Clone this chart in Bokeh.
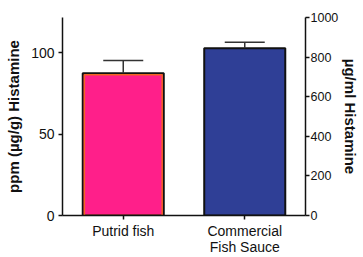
from bokeh.plotting import figure
from bokeh.models import Range1d, LinearAxis, FactorRange, ColumnDataSource, Whisker, TeeHead, FixedTicker
from bokeh.embed import file_html
from bokeh.resources import INLINE

# ---- data ----
categories = ["Putrid fish", "Commercial\nFish Sauce"]
putrid_ppm = [87.3]          # ppm (µg/g) Histamine, left axis
putrid_err = [7.8]
commercial_ugml = [845.0]    # µg/ml Histamine, right axis
commercial_err = [30.0]
left_ticks = [0, 50, 100]
right_ticks = [0, 200, 400, 600, 800, 1000]

FONT = "Liberation Sans"

p = figure(width=363, height=257, output_backend="svg", toolbar_location=None,
           x_range=FactorRange(factors=categories, range_padding=0),
           y_range=Range1d(0, 121.5),
           min_border_left=62, min_border_right=58, min_border_top=17, min_border_bottom=38)
p.extra_y_ranges = {"ugml": Range1d(0, 1000)}
p.outline_line_color = None
p.grid.visible = False
p.background_fill_color = "white"
p.border_fill_color = "white"

src_a = ColumnDataSource(dict(x=[categories[0]], top=putrid_ppm,
                              up=[v + e for v, e in zip(putrid_ppm, putrid_err)]))
src_b = ColumnDataSource(dict(x=[categories[1]], top=commercial_ugml,
                              up=[v + e for v, e in zip(commercial_ugml, commercial_err)]))

# bars
p.vbar(x="x", top="top", bottom=0, width=0.667, source=src_a,
       fill_color="#FF1F8A", line_color="#111111", line_width=2)
src_a_inner = ColumnDataSource(dict(x=[categories[0]], top=[v - 1.0 for v in putrid_ppm]))
p.vbar(x="x", top="top", bottom=0, width=0.64, source=src_a_inner,
       fill_color=None, line_color="#F26522", line_width=1.5)
p.vbar(x="x", top="top", bottom=0, width=0.667, source=src_b, y_range_name="ugml",
       fill_color="#2F3F96", line_color="#111111", line_width=2)

# error bars
for src, rng in ((src_a, "default"), (src_b, "ugml")):
    w = Whisker(base="x", lower="top", upper="up", source=src, dimension="height",
                line_color="#333333", line_width=1.5, level="overlay",
                lower_head=None,
                upper_head=TeeHead(size=40, line_color="#333333", line_width=1.5))
    if rng != "default":
        w.y_range_name = rng
    p.add_layout(w)

# left axis
ya = p.yaxis[0]
ya.ticker = FixedTicker(ticks=left_ticks)
ya.axis_label = "ppm (µg/g) Histamine"

# right axis
ra = LinearAxis(y_range_name="ugml", ticker=FixedTicker(ticks=right_ticks),
                axis_label="µg/ml Histamine")
p.add_layout(ra, "right")

for ax in (ya, ra):
    ax.axis_line_width = 1.5
    ax.axis_line_color = "#111111"
    ax.major_tick_line_width = 1.5
    ax.major_tick_line_color = "#111111"
    ax.major_tick_in = 0
    ax.major_tick_out = 4
    ax.minor_tick_line_color = None
    ax.major_label_text_font = FONT
    ax.major_label_text_font_size = "14px"
    ax.major_label_text_color = "#111111"
    ax.axis_label_text_font = FONT
    ax.axis_label_text_font_style = "bold"
    ax.axis_label_text_font_size = "15px"
    ax.axis_label_text_color = "#111111"
ya.major_label_standoff = 4
ya.axis_label_standoff = 6
ra.major_label_standoff = 1
ra.axis_label_standoff = 1
ra.major_label_text_font_size = "12.5px"
ra.axis_label_orientation = "vertical"

xa = p.xaxis[0]
xa.axis_line_width = 1.5
xa.axis_line_color = "#111111"
xa.major_tick_line_width = 1.5
xa.major_tick_line_color = "#111111"
xa.major_tick_in = 0
xa.major_tick_out = 4
xa.major_label_standoff = 3
xa.major_label_text_font = FONT
xa.major_label_text_font_size = "14px"
xa.major_label_text_color = "#111111"
xa.major_label_text_line_height = 1.0

open("out.html", "w").write(file_html(p, INLINE))
